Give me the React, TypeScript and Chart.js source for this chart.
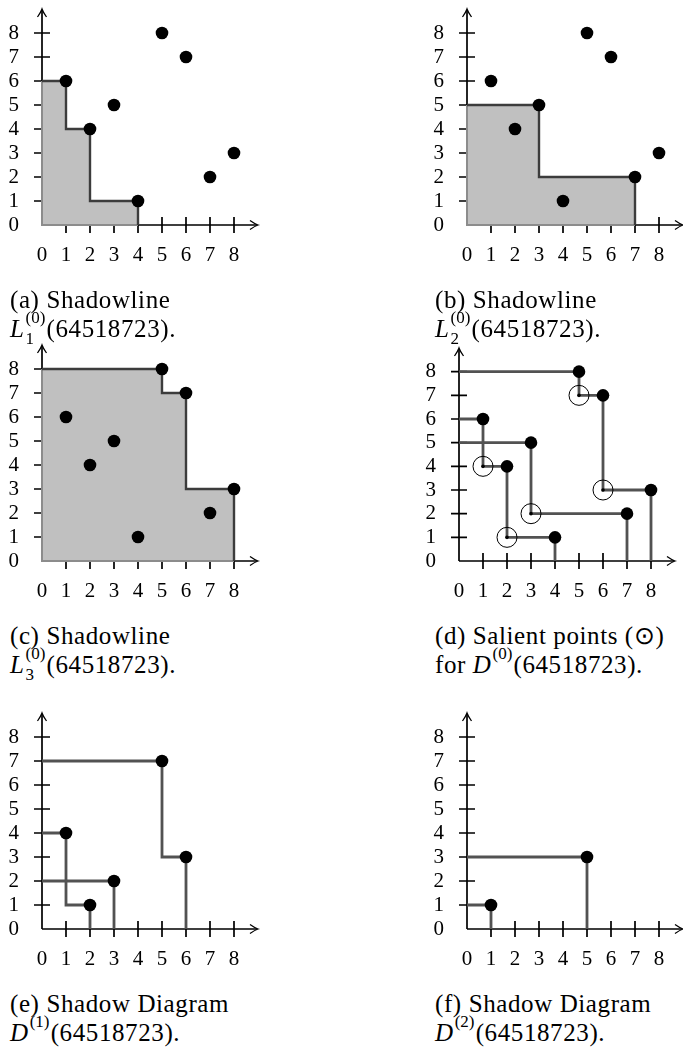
import React, { useEffect, useRef } from 'react';
import { Chart, registerables } from 'chart.js';

Chart.register(...registerables);

// ---------- data ----------
const tickValues = [0, 1, 2, 3, 4, 5, 6, 7, 8];
const tickLabels = ['0', '1', '2', '3', '4', '5', '6', '7', '8'];
const axisMax = 9;

// permutation 64518723
const permX = [1, 2, 3, 4, 5, 6, 7, 8];
const permY = [6, 4, 5, 1, 8, 7, 2, 3];

// shadowlines of D(0)
const line1X = [0, 1, 1, 2, 2, 4, 4];
const line1Y = [6, 6, 4, 4, 1, 1, 0];
const line2X = [0, 3, 3, 7, 7];
const line2Y = [5, 5, 2, 2, 0];
const line3X = [0, 5, 5, 6, 6, 8, 8];
const line3Y = [8, 8, 7, 7, 3, 3, 0];

// salient points / D(1)
const salientX = [1, 2, 3, 5, 6];
const salientY = [4, 1, 2, 7, 3];

const d1Line1X = [0, 1, 1, 2, 2];
const d1Line1Y = [4, 4, 1, 1, 0];
const d1Line2X = [0, 3, 3];
const d1Line2Y = [2, 2, 0];
const d1Line3X = [0, 5, 5, 6, 6];
const d1Line3Y = [7, 7, 3, 3, 0];

// D(2)
const d2X = [1, 5];
const d2Y = [1, 3];
const d2Line1X = [0, 1, 1];
const d2Line1Y = [1, 1, 0];
const d2Line2X = [0, 5, 5];
const d2Line2Y = [3, 3, 0];

// ---------- styles ----------
const FILL = '#c0c0c0';
const EDGE = '#8c8c8c';
const SHADOW = '#3c3c3c';
const DIAG = '#525252';
const CANVAS_W = 270;
const CANVAS_H = 270;

const pts = (xs: number[], ys: number[]) => xs.map((x, i) => ({ x, y: ys[i] }));

const dotSet = (xs: number[], ys: number[]) => ({
  data: pts(xs, ys),
  showLine: false,
  pointRadius: 6.3,
  pointHoverRadius: 6.3,
  pointBackgroundColor: '#000',
  pointBorderWidth: 0,
  clip: false,
});

const circleSet = (xs: number[], ys: number[], r: number, filled: boolean) => ({
  data: pts(xs, ys),
  showLine: false,
  pointRadius: r,
  pointHoverRadius: r,
  pointBackgroundColor: filled ? '#000' : 'rgba(0,0,0,0)',
  pointBorderColor: '#000',
  pointBorderWidth: filled ? 0 : 1,
  clip: false,
});

const stepSet = (xs: number[], ys: number[], color: string, width: number) => ({
  data: pts(xs, ys),
  showLine: true,
  borderColor: color,
  borderWidth: width,
  pointRadius: 0,
  pointHoverRadius: 0,
  fill: false,
  tension: 0,
  clip: false,
  borderCapStyle: 'butt',
  borderJoinStyle: 'miter',
});

const regionSet = (xs: number[], ys: number[]) => ({
  data: pts(xs, ys),
  showLine: true,
  borderWidth: 0,
  borderColor: 'rgba(0,0,0,0)',
  backgroundColor: FILL,
  fill: { target: { value: 0 } },
  pointRadius: 0,
  pointHoverRadius: 0,
  tension: 0,
  clip: false,
});

const edgeSet = (xs: number[], ys: number[]) =>
  stepSet([0, 0, xs[xs.length - 1]], [ys[0], 0, 0], EDGE, 2);

const shadowPanel = (xs: number[], ys: number[]) => [
  dotSet(permX, permY),
  stepSet(xs, ys, SHADOW, 2.4),
  edgeSet(xs, ys),
  regionSet(xs, ys),
];

// ---------- axes plugin ----------
const texAxes = {
  id: 'texAxes',
  beforeDatasetsDraw(chart: any) {
    const { ctx } = chart;
    const xs = chart.scales.x;
    const ys = chart.scales.y;
    const x0 = xs.getPixelForValue(0);
    const y0 = ys.getPixelForValue(0);
    const xEnd = xs.getPixelForValue(axisMax);
    const yEnd = ys.getPixelForValue(axisMax);
    ctx.save();
    ctx.strokeStyle = '#000';
    ctx.lineWidth = 1.7;
    ctx.lineCap = 'butt';
    ctx.beginPath();
    ctx.moveTo(x0, y0);
    ctx.lineTo(xEnd - 1, y0);
    ctx.moveTo(x0, y0);
    ctx.lineTo(x0, yEnd + 1);
    tickValues.forEach((v) => {
      if (v === 0) return;
      const px = xs.getPixelForValue(v);
      ctx.moveTo(px, y0 - 8);
      ctx.lineTo(px, y0 + 8);
      const py = ys.getPixelForValue(v);
      ctx.moveTo(x0 - 8, py);
      ctx.lineTo(x0 + 8, py);
    });
    ctx.stroke();
    // arrow heads
    ctx.lineWidth = 1.3;
    ctx.beginPath();
    ctx.moveTo(xEnd - 8, y0 - 4.5);
    ctx.quadraticCurveTo(xEnd - 3, y0 - 1, xEnd, y0);
    ctx.quadraticCurveTo(xEnd - 3, y0 + 1, xEnd - 8, y0 + 4.5);
    ctx.moveTo(x0 - 4.5, yEnd + 8);
    ctx.quadraticCurveTo(x0 - 1, yEnd + 3, x0, yEnd);
    ctx.quadraticCurveTo(x0 + 1, yEnd + 3, x0 + 4.5, yEnd + 8);
    ctx.stroke();
    ctx.restore();
  },
};

const tickFont = { family: '"Liberation Serif", serif', size: 21 };

const makeScale = (axis: 'x' | 'y') => ({
  type: 'linear',
  min: 0,
  max: axisMax,
  afterBuildTicks: (s: any) => {
    s.ticks = tickValues.map((v) => ({ value: v }));
  },
  ticks: {
    autoSkip: false,
    maxRotation: 0,
    color: '#000',
    font: tickFont,
    padding: axis === 'x' ? 18 : 23,
    callback: (v: number) => {
      const i = tickValues.indexOf(v);
      return i >= 0 ? tickLabels[i] : '';
    },
  },
  grid: { display: false, drawTicks: false },
  border: { display: false },
  afterFit: (s: any) => {
    if (axis === 'x') {
      s.height = 46;
      s.paddingLeft = 0;
      s.paddingRight = 0;
    } else {
      s.width = 42;
      s.paddingTop = 0;
      s.paddingBottom = 0;
    }
  },
});

function Panel({ left, top, datasets }: { left: number; top: number; datasets: any[] }) {
  const ref = useRef<HTMLCanvasElement>(null);
  useEffect(() => {
    const chart = new Chart(ref.current as HTMLCanvasElement, {
      type: 'line',
      data: { datasets },
      options: {
        animation: false,
        responsive: false,
        devicePixelRatio: 1,
        events: [],
        layout: { padding: { top: 8, right: 12, left: 0, bottom: 0 } },
        plugins: { legend: { display: false }, tooltip: { enabled: false } },
        scales: { x: makeScale('x'), y: makeScale('y') } as any,
      },
      plugins: [texAxes],
    } as any);
    return () => chart.destroy();
  }, []);
  return (
    <canvas
      ref={ref}
      width={CANVAS_W}
      height={CANVAS_H}
      style={{ position: 'absolute', left, top, width: CANVAS_W, height: CANVAS_H }}
    />
  );
}

// ---------- captions ----------
const capBase: React.CSSProperties = {
  position: 'absolute',
  fontFamily: '"Liberation Serif", serif',
  fontSize: 25,
  lineHeight: '29px',
  letterSpacing: '0.6px',
  color: '#000',
  whiteSpace: 'nowrap',
  margin: 0,
};

function Scripts({ sup, sub }: { sup: string; sub?: string }) {
  return (
    <span style={{ display: 'inline-block', position: 'relative', width: 22, height: 0 }}>
      <span style={{ position: 'absolute', left: 1, bottom: 11, fontSize: 17, lineHeight: '17px', letterSpacing: 0 }}>{sup}</span>
      {sub ? (
        <span style={{ position: 'absolute', left: 1, top: -7, fontSize: 17, lineHeight: '17px', letterSpacing: 0 }}>{sub}</span>
      ) : null}
    </span>
  );
}

function Caption({ left, top, children }: { left: number; top: number; children: React.ReactNode }) {
  return <div style={{ ...capBase, left, top }}>{children}</div>;
}

const ROW_O = [225, 561, 929];
const COL_L = [0, 425];
const COL_D = 417;
const CAP_X = [10, 435];
const CAP_DY = 60;

export default function App() {
  const panelA = shadowPanel(line1X, line1Y);
  const panelB = shadowPanel(line2X, line2Y);
  const panelC = shadowPanel(line3X, line3Y);
  const panelD = [
    dotSet(permX, permY),
    circleSet(salientX, salientY, 1.8, true),
    circleSet(salientX, salientY, 10, false),
    stepSet(line1X, line1Y, DIAG, 2.8),
    stepSet(line2X, line2Y, DIAG, 2.8),
    stepSet(line3X, line3Y, DIAG, 2.8),
  ];
  const panelE = [
    dotSet(salientX, salientY),
    stepSet(d1Line1X, d1Line1Y, DIAG, 2.8),
    stepSet(d1Line2X, d1Line2Y, DIAG, 2.8),
    stepSet(d1Line3X, d1Line3Y, DIAG, 2.8),
  ];
  const panelF = [
    dotSet(d2X, d2Y),
    stepSet(d2Line1X, d2Line1Y, DIAG, 2.8),
    stepSet(d2Line2X, d2Line2Y, DIAG, 2.8),
  ];
  const t = (r: number) => ROW_O[r] - 224;
  const ct = (r: number) => ROW_O[r] + CAP_DY;
  return (
    <div style={{ position: 'absolute', left: 0, top: 0, width: 683, height: 1047, background: '#fff', overflow: 'hidden' }}>
      <Panel left={COL_L[0]} top={t(0)} datasets={panelA} />
      <Panel left={COL_L[1]} top={t(0)} datasets={panelB} />
      <Panel left={COL_L[0]} top={t(1)} datasets={panelC} />
      <Panel left={COL_D} top={t(1)} datasets={panelD} />
      <Panel left={COL_L[0]} top={t(2)} datasets={panelE} />
      <Panel left={COL_L[1]} top={t(2)} datasets={panelF} />

      <Caption left={CAP_X[0]} top={ct(0)}>
        (a) Shadowline
        <br />
        <i>L</i>
        <Scripts sup="(0)" sub="1" />
        (64518723).
      </Caption>
      <Caption left={CAP_X[1]} top={ct(0)}>
        (b) Shadowline
        <br />
        <i>L</i>
        <Scripts sup="(0)" sub="2" />
        (64518723).
      </Caption>
      <Caption left={CAP_X[0]} top={ct(1)}>
        (c) Shadowline
        <br />
        <i>L</i>
        <Scripts sup="(0)" sub="3" />
        (64518723).
      </Caption>
      <Caption left={CAP_X[1]} top={ct(1)}>
        (d) Salient points (⊙)
        <br />
        for <i>D</i>
        <Scripts sup="(0)" />
        (64518723).
      </Caption>
      <Caption left={CAP_X[0]} top={ct(2)}>
        (e) Shadow Diagram
        <br />
        <i>D</i>
        <Scripts sup="(1)" />
        (64518723).
      </Caption>
      <Caption left={CAP_X[1]} top={ct(2)}>
        (f) Shadow Diagram
        <br />
        <i>D</i>
        <Scripts sup="(2)" />
        (64518723).
      </Caption>
    </div>
  );
}
